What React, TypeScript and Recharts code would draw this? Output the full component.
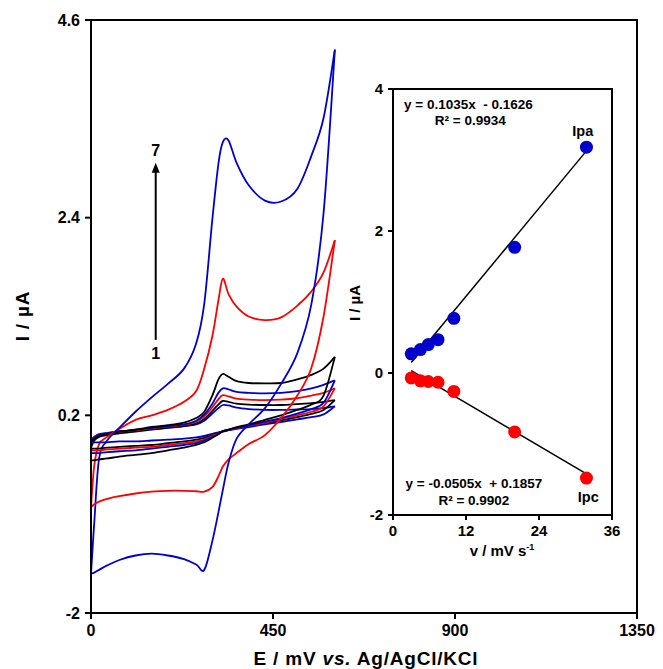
import React from "react";
import {
  ComposedChart,
  Line,
  ReferenceArea,
  ReferenceDot,
  ReferenceLine,
  Scatter,
  XAxis,
  YAxis,
} from "recharts";

const FONT = "'Liberation Sans', Arial, sans-serif";

// potential grid (mV) shared by every sweep
const potentials = [0, 8, 20, 40, 70, 110, 150, 190, 230, 260, 280, 300, 315, 326, 340, 360, 390, 430, 470, 510, 545, 575, 603];

// current (µA) on the anodic (forward) sweep, one value per potential
const forward1 = [-0.08, -0.04, -0.01, 0.005, 0.02, 0.035, 0.05, 0.065, 0.08, 0.1, 0.14, 0.22, 0.28, 0.315, 0.31, 0.285, 0.27, 0.26, 0.26, 0.265, 0.27, 0.28, 0.3];
const forward2 = [-0.16, -0.08, -0.04, -0.02, 0.0, 0.02, 0.04, 0.06, 0.08, 0.11, 0.16, 0.25, 0.32, 0.36, 0.35, 0.33, 0.32, 0.315, 0.315, 0.325, 0.335, 0.35, 0.37];
const forward3 = [-0.09, -0.04, -0.02, 0.0, 0.02, 0.035, 0.055, 0.075, 0.095, 0.13, 0.19, 0.29, 0.38, 0.425, 0.41, 0.385, 0.375, 0.37, 0.375, 0.39, 0.42, 0.45, 0.5];
const forward4 = [-0.1, -0.05, -0.02, 0.0, 0.02, 0.04, 0.06, 0.08, 0.1, 0.14, 0.21, 0.33, 0.45, 0.5, 0.49, 0.46, 0.45, 0.445, 0.45, 0.47, 0.5, 0.54, 0.59];
const forward5 = [-0.12, -0.06, -0.03, -0.01, 0.02, 0.04, 0.07, 0.09, 0.12, 0.17, 0.24, 0.42, 0.6, 0.66, 0.63, 0.58, 0.56, 0.555, 0.56, 0.6, 0.65, 0.72, 0.85];
const forward6 = [-0.82, -0.36, -0.12, -0.04, 0.05, 0.15, 0.2, 0.26, 0.35, 0.47, 0.72, 1.08, 1.48, 1.72, 1.55, 1.41, 1.3, 1.26, 1.29, 1.42, 1.58, 1.79, 2.15];
const forward7 = [-1.56, -1.0, -0.28, -0.08, 0.06, 0.24, 0.4, 0.55, 0.72, 1.0, 1.44, 2.38, 3.0, 3.24, 3.26, 3.01, 2.76, 2.59, 2.58, 2.72, 3.09, 3.51, 4.27];

// current (µA) on the cathodic (reverse) sweep, same potential order
const reverse1 = [-0.1, -0.1, -0.1, -0.1, -0.09, -0.09, -0.08, -0.07, -0.06, -0.045, -0.03, -0.005, 0.01, 0.025, 0.035, 0.05, 0.07, 0.1, 0.125, 0.155, 0.18, 0.21, 0.3];
const reverse2 = [-0.17, -0.17, -0.17, -0.16, -0.15, -0.14, -0.13, -0.11, -0.09, -0.07, -0.05, -0.02, 0.005, 0.025, 0.04, 0.06, 0.085, 0.115, 0.145, 0.18, 0.215, 0.26, 0.37];
const reverse3 = [-0.19, -0.19, -0.19, -0.18, -0.17, -0.16, -0.15, -0.13, -0.11, -0.09, -0.07, -0.03, 0.0, 0.02, 0.035, 0.055, 0.085, 0.12, 0.16, 0.2, 0.24, 0.3, 0.5];
const reverse4 = [-0.22, -0.22, -0.22, -0.21, -0.2, -0.19, -0.17, -0.15, -0.13, -0.11, -0.08, -0.04, -0.005, 0.02, 0.035, 0.06, 0.09, 0.13, 0.17, 0.22, 0.27, 0.34, 0.59];
const reverse5 = [-0.3, -0.3, -0.29, -0.28, -0.26, -0.24, -0.22, -0.19, -0.16, -0.13, -0.1, -0.05, -0.01, 0.02, 0.04, 0.07, 0.1, 0.15, 0.2, 0.26, 0.32, 0.42, 0.85];
const reverse6 = [-0.82, -0.79, -0.76, -0.73, -0.7, -0.67, -0.65, -0.64, -0.64, -0.645, -0.65, -0.6, -0.48, -0.37, -0.29, -0.22, -0.12, -0.02, 0.17, 0.42, 0.73, 1.3, 2.15];
const reverse7 = [-1.56, -1.55, -1.52, -1.47, -1.41, -1.36, -1.34, -1.36, -1.4, -1.46, -1.52, -1.2, -0.88, -0.63, -0.33, -0.06, 0.1, 0.28, 0.55, 0.89, 1.44, 2.45, 4.27];

const forwardSweeps = [forward1, forward2, forward3, forward4, forward5, forward6, forward7];
const reverseSweeps = [reverse1, reverse2, reverse3, reverse4, reverse5, reverse6, reverse7];
const sweepColors = ["#0000cc", "#000000", "#ff0000", "#0000cc", "#000000", "#ff0000", "#0000cc"];

const potentialTicks = [0, 450, 900, 1350];
const currentTicks = [-2, 0.2, 2.4, 4.6];

// inset: peak currents against scan rate
const scanRates = [3, 4.5, 5.8, 7.4, 10, 20, 31.8];
const anodicPeaks = [0.27, 0.33, 0.4, 0.47, 0.77, 1.77, 3.18];
const cathodicPeaks = [-0.07, -0.11, -0.12, -0.13, -0.26, -0.83, -1.48];
const anodicFit = { slope: 0.1035, intercept: -0.1626 };
const cathodicFit = { slope: -0.0505, intercept: 0.1857 };
const rateTicks = [0, 12, 24, 36];
const peakTicks = [-2, 0, 2, 4];

// each CV is drawn as two smooth strokes so the switching corners stay sharp
const sweepsOut = forwardSweeps.map((fwd, s) =>
  [{ E: potentials[0], I: reverseSweeps[s][0] }].concat(fwd.map((I, k) => ({ E: potentials[k], I })))
);
const sweepsBack = reverseSweeps.map((rev) => rev.map((I, k) => ({ E: potentials[k], I })).reverse());

const anodicPoints = scanRates.map((v, k) => ({ v, i: anodicPeaks[k] }));
const cathodicPoints = scanRates.map((v, k) => ({ v, i: cathodicPeaks[k] }));
const fitLine = (fit: { slope: number; intercept: number }) =>
  [scanRates[0], scanRates[scanRates.length - 1]].map((v) => ({ v, i: fit.slope * v + fit.intercept }));

// catmull-rom through the points, used as the Line curve type
const smoothCurve = (context: any) => {
  let pts: number[][] = [];
  return {
    areaStart() {},
    areaEnd() {},
    lineStart() {
      pts = [];
    },
    lineEnd() {
      const n = pts.length;
      if (!n) return;
      context.moveTo(pts[0][0], pts[0][1]);
      for (let k = 0; k < n - 1; k++) {
        const p0 = pts[k - 1] || pts[k];
        const p1 = pts[k];
        const p2 = pts[k + 1];
        const p3 = pts[k + 2] || p2;
        context.bezierCurveTo(
          p1[0] + (p2[0] - p0[0]) / 6,
          p1[1] + (p2[1] - p0[1]) / 6,
          p2[0] - (p3[0] - p1[0]) / 6,
          p2[1] - (p3[1] - p1[1]) / 6,
          p2[0],
          p2[1]
        );
      }
    },
    point(x: number, y: number) {
      pts.push([+x, +y]);
    },
  };
};

const tickStyle = { fill: "#000", fontSize: 16, fontWeight: 700, fontFamily: FONT };
const insetTickStyle = { fill: "#000", fontSize: 15, fontWeight: 700, fontFamily: FONT };
const axisStroke = { stroke: "#000", strokeWidth: 2 };

const textShape =
  (text: string, size: number, anchor = "middle") =>
  (props: any) =>
    (
      <text
        x={props.cx}
        y={props.cy}
        textAnchor={anchor}
        dominantBaseline="central"
        fontFamily={FONT}
        fontWeight={700}
        fontSize={size}
        fill="#000"
        style={{ whiteSpace: "pre" }}
      >
        {text}
      </text>
    );

const arrowHead = (props: any) => (
  <polygon
    points={`${props.cx},${props.cy} ${props.cx - 4},${props.cy + 10} ${props.cx + 4},${props.cy + 10}`}
    fill="#000"
  />
);

const dot = (color: string) => (props: any) =>
  <circle cx={props.cx} cy={props.cy} r={6.5} fill={color} />;

export default function App() {
  return (
    <div style={{ position: "absolute", left: 0, top: 0, width: 663, height: 669, background: "#fff" }}>
      <ComposedChart width={663} height={669} margin={{ top: 20, right: 26, bottom: 0, left: 0 }}>
        <XAxis
          type="number"
          dataKey="E"
          domain={[0, 1350]}
          ticks={potentialTicks}
          allowDataOverflow
          height={56}
          axisLine={axisStroke}
          tickLine={axisStroke}
          tickSize={6}
          tickMargin={6}
          tick={tickStyle}
          label={() => (
            <text
              x={366}
              y={665}
              textAnchor="middle"
              fontFamily={FONT}
              fontWeight={700}
              fontSize={19}
              letterSpacing={0.8}
              fill="#000"
            >
              <tspan>E / mV </tspan>
              <tspan fontStyle="italic">vs.</tspan>
              <tspan> Ag/AgCl/KCl</tspan>
            </text>
          )}
        />
        <YAxis
          type="number"
          domain={[-2, 4.6]}
          ticks={currentTicks}
          allowDataOverflow
          width={91}
          axisLine={axisStroke}
          tickLine={axisStroke}
          tickSize={6}
          tickMargin={5}
          tick={tickStyle}
          label={() => (
            <text
              x={29}
              y={316}
              transform="rotate(-90 29 316)"
              textAnchor="middle"
              fontFamily={FONT}
              fontWeight={700}
              fontSize={19}
              letterSpacing={0.8}
              fill="#000"
            >
              I / µA
            </text>
          )}
        />
        <ReferenceArea x1={0} x2={1350} y1={-2} y2={4.6} fill="none" stroke="#000" strokeWidth={2} ifOverflow="visible" />
        {sweepsOut.map((data, s) => (
          <Line
            key={`out${s}`}
            data={data}
            dataKey="I"
            type={smoothCurve as any}
            stroke={sweepColors[s]}
            strokeWidth={1.8}
            dot={false}
            activeDot={false}
            isAnimationActive={false}
          />
        ))}
        {sweepsBack.map((data, s) => (
          <Line
            key={`back${s}`}
            data={data}
            dataKey="I"
            type={smoothCurve as any}
            stroke={sweepColors[s]}
            strokeWidth={1.8}
            dot={false}
            activeDot={false}
            isAnimationActive={false}
          />
        ))}
        <ReferenceLine segment={[{ x: 160, y: 1.04 }, { x: 160, y: 2.95 }]} stroke="#000" strokeWidth={2} />
        <ReferenceDot x={160} y={3.01} shape={arrowHead} />
        <ReferenceDot x={160} y={3.15} shape={textShape("7", 16)} />
        <ReferenceDot x={160} y={0.89} shape={textShape("1", 16)} />
      </ComposedChart>

      <div style={{ position: "absolute", left: 340, top: 80 }}>
        <ComposedChart width={290} height={490} margin={{ top: 9, right: 18, bottom: 0, left: 0 }}>
          <XAxis
            type="number"
            dataKey="v"
            domain={[0, 36]}
            ticks={rateTicks}
            allowDataOverflow
            height={55}
            axisLine={axisStroke}
            tickLine={axisStroke}
            tickSize={5}
            tickMargin={5}
            tick={insetTickStyle}
            label={() => (
              <text x={162} y={476} textAnchor="middle" fontFamily={FONT} fontWeight={700} fontSize={15} fill="#000">
                <tspan>v / mV s</tspan>
                <tspan dy={-6} fontSize={9}>-1</tspan>
              </text>
            )}
          />
          <YAxis
            type="number"
            domain={[-2, 4]}
            ticks={peakTicks}
            allowDataOverflow
            width={53}
            axisLine={axisStroke}
            tickLine={axisStroke}
            tickSize={5}
            tickMargin={5}
            tick={insetTickStyle}
            label={() => (
              <text
                x={20}
                y={223}
                transform="rotate(-90 20 223)"
                textAnchor="middle"
                fontFamily={FONT}
                fontWeight={700}
                fontSize={15}
                fill="#000"
              >
                I / µA
              </text>
            )}
          />
          <ReferenceArea x1={0} x2={36} y1={-2} y2={4} fill="none" stroke="#000" strokeWidth={2} ifOverflow="visible" />
          <Scatter data={anodicPoints} dataKey="i" shape={dot("#0000cc")} isAnimationActive={false} />
          <Scatter data={cathodicPoints} dataKey="i" shape={dot("#ff0000")} isAnimationActive={false} />
          <Line data={fitLine(anodicFit)} dataKey="i" type="linear" stroke="#000" strokeWidth={1.5} dot={false} activeDot={false} isAnimationActive={false} />
          <Line data={fitLine(cathodicFit)} dataKey="i" type="linear" stroke="#000" strokeWidth={1.5} dot={false} activeDot={false} isAnimationActive={false} />
          <ReferenceDot x={12.4} y={3.78} shape={textShape("y = 0.1035x  - 0.1626", 13.5)} />
          <ReferenceDot x={12.7} y={3.56} shape={textShape("R² = 0.9934", 13.5)} />
          <ReferenceDot x={31.2} y={3.41} shape={textShape("Ipa", 14.5)} />
          <ReferenceDot x={13.3} y={-1.56} shape={textShape("y = -0.0505x  + 0.1857", 13.5)} />
          <ReferenceDot x={13.3} y={-1.79} shape={textShape("R² = 0.9902", 13.5)} />
          <ReferenceDot x={32.1} y={-1.74} shape={textShape("Ipc", 14.5)} />
        </ComposedChart>
      </div>
    </div>
  );
}
